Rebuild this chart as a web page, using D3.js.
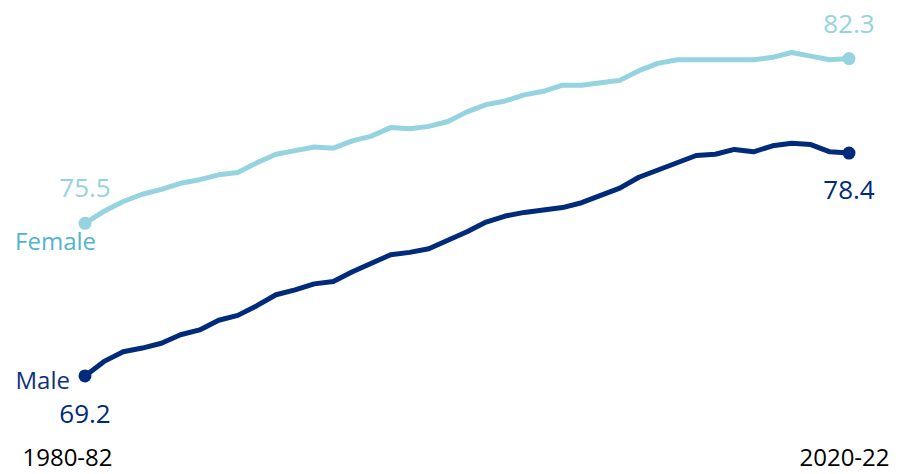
<!DOCTYPE html>
<html>
<head>
<meta charset="utf-8">
<script src="https://cdn.jsdelivr.net/npm/d3@7"></script>
<style>
  body { margin: 0; background: #fff; }
  svg { display: block; font-family: "Open Sans", sans-serif; }
</style>
</head>
<body>
<div id="chart"></div>
<script>
// three-year periods, 1980-82 to 2020-22
var periods = d3.range(1980, 2021).map(function(y) { return y + "-" + String(y + 2).slice(2); });
var tickLabels = ["1980-82", "2020-22"];

// life expectancy at birth (years)
var female = [75.5, 76.0, 76.4, 76.7, 76.9, 77.15, 77.3, 77.5, 77.6, 78.0,
              78.35, 78.5, 78.65, 78.6, 78.9, 79.1, 79.45, 79.4, 79.5, 79.7,
              80.1, 80.4, 80.55, 80.8, 80.95, 81.2, 81.2, 81.3, 81.4, 81.8,
              82.1, 82.25, 82.25, 82.25, 82.25, 82.25, 82.35, 82.55, 82.4, 82.25, 82.3];
var male = [69.2, 69.8, 70.2, 70.35, 70.55, 70.9, 71.1, 71.5, 71.7, 72.1,
            72.55, 72.75, 73.0, 73.1, 73.5, 73.85, 74.2, 74.3, 74.45, 74.8,
            75.15, 75.55, 75.8, 75.95, 76.05, 76.15, 76.35, 76.65, 76.95, 77.4,
            77.7, 78.0, 78.3, 78.35, 78.55, 78.45, 78.7, 78.8, 78.75, 78.45, 78.4];

var width = 902, height = 474;

var svg = d3.select("#chart")
  .append("svg")
    .attr("width", width)
    .attr("height", height);

var x = d3.scalePoint()
  .domain(periods)
  .range([85, 849]);

var y = d3.scaleLinear()
  .domain([68, 83])
  .range([405, 41.6]);

var series = [
  {name: "Female", values: female, color: "#94d3df", nameColor: "#52b4cd"},
  {name: "Male", values: male, color: "#002a7a", nameColor: "#0f3280"}
];

var line = d3.line()
  .x(function(d, i) { return x(periods[i]); })
  .y(function(d) { return y(d); });

series.forEach(function(s) {
  svg.append("path")
    .attr("d", line(s.values))
    .attr("fill", "none")
    .attr("stroke", s.color)
    .attr("stroke-width", 5)
    .attr("stroke-linejoin", "round");

  var last = s.values.length - 1;
  [0, last].forEach(function(i) {
    svg.append("circle")
      .attr("cx", x(periods[i]))
      .attr("cy", y(s.values[i]))
      .attr("r", 6.5)
      .attr("fill", s.color);
  });
});

// value labels at both ends
function valueLabel(val, i, dy, color) {
  svg.append("text")
    .attr("x", x(periods[i]))
    .attr("y", y(val) + dy)
    .attr("text-anchor", "middle")
    .attr("font-size", 26)
    .attr("fill", color)
    .text(val.toFixed(1));
}
valueLabel(female[0], 0, -26, series[0].color);
valueLabel(female[40], 40, -26, series[0].color);
valueLabel(male[0], 0, 47, series[1].color);
valueLabel(male[40], 40, 46, series[1].color);

// series names
svg.append("text")
  .attr("x", x(periods[0]) + 11)
  .attr("y", y(female[0]) + 27)
  .attr("text-anchor", "end")
  .attr("font-size", 24)
  .attr("fill", series[0].nameColor)
  .text("Female");

svg.append("text")
  .attr("x", x(periods[0]) - 15)
  .attr("y", y(male[0]) + 13)
  .attr("text-anchor", "end")
  .attr("font-size", 24)
  .attr("fill", series[1].nameColor)
  .text("Male");

// x axis: only first and last period
var xAxis = svg.append("g")
  .attr("transform", "translate(0,446)")
  .call(d3.axisBottom(x).tickValues(tickLabels).tickSize(0).tickPadding(3));

xAxis.select(".domain").remove();
xAxis.selectAll("text")
  .attr("font-family", "Open Sans, sans-serif")
  .attr("font-size", 24)
  .attr("fill", "#000")
  .attr("dx", function(d) { return d === tickLabels[0] ? -18 : -5; });
</script>
</body>
</html>
